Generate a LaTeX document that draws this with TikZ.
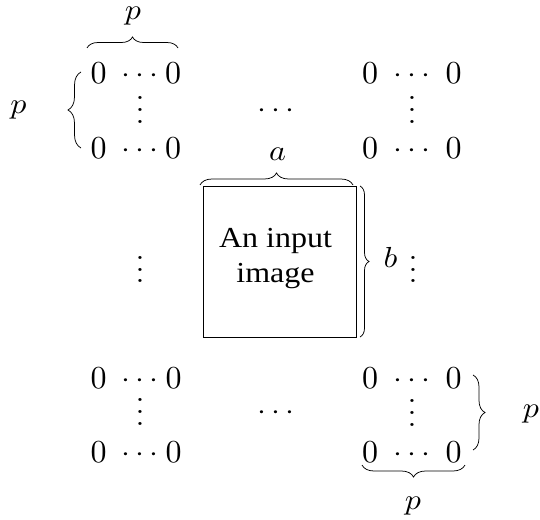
\documentclass[tikz,border=0pt]{standalone}
\usepackage{fontspec}
\newfontfamily\tnr{Liberation Serif}
\usetikzlibrary{decorations.pathreplacing}

% everything is typeset at 10pt and blown up
\newcommand\bigtxt[1]{\scalebox{3.2}[2.9]{#1}}
\newcommand\zz{\scalebox{3.2}{$0$}}
\newcommand\hd{\bigtxt{\vphantom{0}$\cdots$}}
\newcommand\vd{\bigtxt{\vbox{\baselineskip4pt\lineskiplimit0pt\hbox{.}\hbox{.}\hbox{.}}}}

\tikzset{
  big/.style={inner sep=0pt},
  brc/.style={draw, line width=0.75pt, decorate, decoration={brace, amplitude=#1}},
  imgbox/.style={draw, line width=0.9pt, minimum width=153pt, minimum height=151pt, inner sep=0pt},
}

\begin{document}
\begin{tikzpicture}[x=1pt, y=-1pt]
\useasboundingbox (0,0) rectangle (540,519);

% top-left padding block
\node[big] (tl11) at (98.5,73) {\zz};
\node[big] (tl1d) at (140,73) {\hd};
\node[big] (tl12) at (173,73) {\zz};
\node[big] (tlv)  at (140,110) {\vd};
\node[big] (tl21) at (98.5,148.5) {\zz};
\node[big] (tl2d) at (140,148.5) {\hd};
\node[big] (tl22) at (173,148.5) {\zz};

% top-right padding block
\node[big] (tr11) at (370,73) {\zz};
\node[big] (tr1d) at (412,73) {\hd};
\node[big] (tr12) at (453.5,73) {\zz};
\node[big] (trv)  at (412,110) {\vd};
\node[big] (tr21) at (370,148.5) {\zz};
\node[big] (tr2d) at (412,148.5) {\hd};
\node[big] (tr22) at (453.5,148.5) {\zz};

% bottom-left padding block
\node[big] (bl11) at (98.5,378.5) {\zz};
\node[big] (bl1d) at (140,378.5) {\hd};
\node[big] (bl12) at (173.5,378.5) {\zz};
\node[big] (blv)  at (140,412) {\vd};
\node[big] (bl21) at (98.5,452) {\zz};
\node[big] (bl2d) at (140,452) {\hd};
\node[big] (bl22) at (173.5,452) {\zz};

% bottom-right padding block
\node[big] (br11) at (370,378.5) {\zz};
\node[big] (br1d) at (412,378.5) {\hd};
\node[big] (br12) at (453.5,378.5) {\zz};
\node[big] (brv)  at (412,413) {\vd};
\node[big] (br21) at (370,452) {\zz};
\node[big] (br2d) at (412,452) {\hd};
\node[big] (br22) at (453.5,452) {\zz};

% dots between the blocks
\node[big] (mtop) at (276,108.5) {\hd};
\node[big] (mbot) at (276,410.5) {\hd};
\node[big] (mlft) at (140,269.5) {\vd};
\node[big] (mrgt) at (413,269.5) {\vd};

% the image in the middle
\node[imgbox] (img) at (279.5,261.5) {};
\node[big] (imgtxt) at ([xshift=-4pt,yshift=3.8pt]img.center)
  {\bigtxt{\tnr\fontsize{10}{12}\selectfont\begin{tabular}{@{}c@{}}An input\\image\end{tabular}}};

% brace end points
\coordinate (tlTopA) at (87,48);
\coordinate (tlTopB) at (178,48);
\coordinate (tlLeftA) at (81,148);
\coordinate (tlLeftB) at (81,72);
\coordinate (imgTopA) at (200,185);
\coordinate (imgTopB) at (353,185);
\coordinate (imgRgtA) at (360,186);
\coordinate (imgRgtB) at (360,337);
\coordinate (brRgtA) at (473,375);
\coordinate (brRgtB) at (473,450);
\coordinate (brBotA) at (465,465);
\coordinate (brBotB) at (362,465);

% braces
\draw[brc=11] (tlTopA) -- (tlTopB);
\draw[brc=13] (tlLeftA) -- (tlLeftB);
\draw[brc=12] (imgTopA) -- (imgTopB);
\draw[brc=9]  (imgRgtA) -- (imgRgtB);
\draw[brc=12] (brRgtA) -- (brRgtB);
\draw[brc=12] (brBotA) -- (brBotB);

% brace labels
\node[big] (pTop)  at (133,16)    {\bigtxt{$p$}};
\node[big] (pLeft) at (18.5,110)  {\bigtxt{$p$}};
\node[big] (aLbl)  at (277.5,154) {\bigtxt{$a$}};
\node[big] (bLbl)  at (390.5,257.5) {\bigtxt{$b$}};
\node[big] (pRgt)  at (531,414)   {\bigtxt{$p$}};
\node[big] (pBot)  at (413,506)   {\bigtxt{$p$}};
\end{tikzpicture}
\end{document}
